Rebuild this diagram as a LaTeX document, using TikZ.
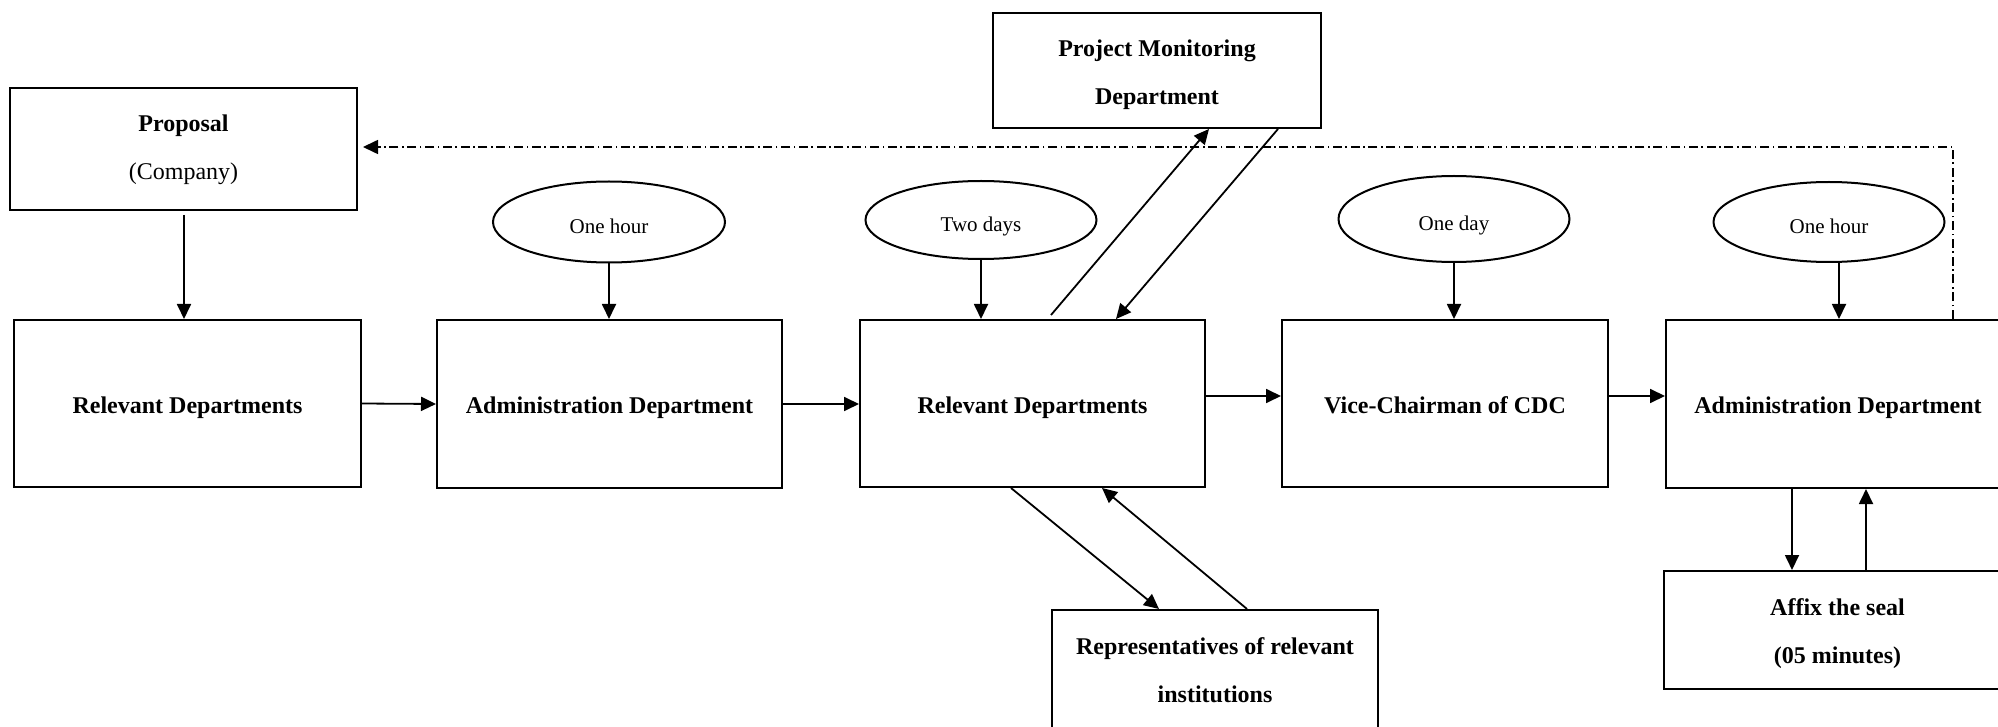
\documentclass[tikz,border=0pt]{standalone}
\usepackage{fontspec}
\setmainfont{Liberation Serif}
\usetikzlibrary{calc,arrows.meta,shapes.geometric}

% two centred lines, baseline at the first one
\newcommand{\twolines}[2]{\parbox[t]{155pt}{\centering #1\\#2}}

\tikzset{
  box/.style={draw, line width=1pt, rectangle, inner sep=0pt, align=center,
    text height=9.5pt, text depth=0pt,
    font=\bfseries\fontsize{12}{24}\selectfont},
  % first baseline 22pt below the top edge; value = box height - 44pt
  toptext/.style={text height=0pt, text depth=#1},
  oval/.style={draw, line width=1pt, ellipse, inner sep=0pt,
    text height=12pt, text depth=0pt,
    font=\fontsize{10.5}{12}\selectfont},
  arr/.style={line width=0.9pt, -{Triangle[length=7.5pt,width=7pt]}},
  dashdot/.style={line width=0.8pt, dash pattern=on 4.5pt off 1.8pt on 0.8pt off 1.8pt},
}

\begin{document}
\begin{tikzpicture}[x=0.5pt, y=-0.5pt]
\useasboundingbox (0,0) rectangle (1998,727);
\clip (0,0) rectangle (1998,727);

% boxes
\node[box, toptext=17pt, minimum width=173.5pt, minimum height=61pt] (prop) at (183.5,149)
  {\twolines{Proposal}{\mdseries(Company)}};
\node[box, minimum width=173.5pt, minimum height=83.5pt] (rd1) at (187.5,403.5) {Relevant Departments};
\node[box, minimum width=172.5pt, minimum height=84pt] (ad1) at (609.5,404) {Administration Department};
\node[box, minimum width=172.5pt, minimum height=83.5pt] (rd2) at (1032.5,403.5) {Relevant Departments};
\node[box, minimum width=163pt, minimum height=83.5pt] (vc) at (1445,403.5) {Vice-Chairman of CDC};
\node[box, minimum width=172pt, minimum height=84pt] (ad2) at (1838,404) {Administration Department};
\node[box, toptext=13.5pt, minimum width=164pt, minimum height=57.5pt] (pm) at (1157,70.5)
  {\twolines{Project Monitoring}{Department}};
\node[box, toptext=16pt, minimum width=163pt, minimum height=60pt] (rep) at (1215,670)
  {\twolines{Representatives of relevant}{institutions}};
\node[box, toptext=15pt, minimum width=173.5pt, minimum height=59pt] (seal) at (1837.5,630)
  {\twolines{Affix the seal}{(05 minutes)}};

% time ellipses
\node[oval, minimum width=116pt, minimum height=40.5pt] (e1) at (609,222) {One hour};
\node[oval, minimum width=115.5pt, minimum height=39pt] (e2) at (981,220) {Two days};
\node[oval, minimum width=115.5pt, minimum height=43pt] (e3) at (1454,219) {One day};
\node[oval, minimum width=115.5pt, minimum height=40pt] (e4) at (1829,222) {One hour};

% vertical inputs
\draw[arr] ($(prop.south)+(0.5,4)$) -- ($(prop.south |- rd1.north)+(0.5,0)$);
\draw[arr] (e1.south) -- (e1.south |- ad1.north);
\draw[arr] (e2.south) -- (e2.south |- rd2.north);
\draw[arr] (e3.south) -- (e3.south |- vc.north);
\draw[arr] ($(e4.south)+(10,0)$) -- ($(e4.south |- ad2.north)+(10,0)$);

% main flow
\draw[arr] (rd1.east) -- (ad1.west);
\draw[arr] (ad1.east) -- (ad1.east -| rd2.west);
\draw[arr] ([yshift=3.75pt]rd2.east) -- ([yshift=3.75pt]vc.west);
\draw[arr] ([yshift=3.75pt]vc.east) -- ([yshift=3.75pt]vc.east -| ad2.west);

% exchanges with the monitoring department
\draw[arr] ($(rd2.north west)+(192,-4)$) -- ($(pm.south west)+(217,0)$);
\draw[arr] ($(pm.south west)+(286,0)$) -- ($(rd2.north west)+(257,0)$);

% exchanges with the institutions
\draw[arr] ($(rd2.south west)+(152,0)$) -- ($(rep.north west)+(108,0)$);
\draw[arr] ($(rep.north west)+(196,0)$) -- ($(rd2.south west)+(243,0)$);

% sealing
\draw[arr] ($(ad2.south west)+(127,0)$) -- ($(ad2.south west |- seal.north)+(127,0)$);
\draw[arr] ($(ad2.south west |- seal.north)+(201,0)$) -- ($(ad2.south west)+(201,0)$);

% return to the company
\draw[dashdot, -{Triangle[length=7.5pt,width=7pt]}]
  ($(ad2.north west)+(288,0)$) |- ($(prop.east)+(5,-2)$);

\end{tikzpicture}
\end{document}
